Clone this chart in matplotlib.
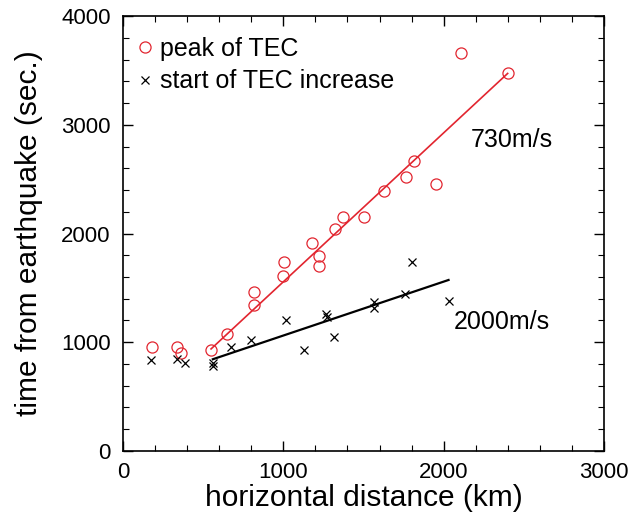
import numpy as np
import matplotlib
matplotlib.use("Agg")
import matplotlib.pyplot as plt
from matplotlib.ticker import MultipleLocator

plt.rcParams['font.family'] = ['Liberation Sans', 'DejaVu Sans']

# peak of TEC (km, sec)
peak_dist = [177, 334, 361, 548, 646, 815, 815, 996, 1006, 1179, 1223, 1219,
             1323, 1371, 1503, 1625, 1813, 1767, 1950, 2109, 2400]
peak_time = [958, 958, 897, 927, 1077, 1344, 1464, 1611, 1735, 1910, 1796, 1703,
             2039, 2155, 2155, 2394, 2665, 2517, 2459, 3659, 3478]

# start of TEC increase (km, sec)
start_dist = [171, 338, 386, 559, 563, 673, 798, 1015, 1131, 1267, 1271, 1315,
              1567, 1567, 1761, 1803, 2031]
start_time = [835, 842, 805, 805, 780, 958, 1017, 1203, 927, 1256, 1228, 1050,
              1372, 1317, 1440, 1735, 1378]

# fitted lines (end points)
fit_peak_x = [548, 2400]
fit_peak_y = [937, 3474]
fit_start_x = [559, 2031]
fit_start_y = [842, 1572]

red = '#e2252f'

fig = plt.figure(figsize=(6.3, 5.15), dpi=100)
ax = fig.add_axes([0.1957, 0.1249, 0.7626, 0.8434])

ax.plot(fit_peak_x, fit_peak_y, color=red, lw=1.2)
ax.plot(fit_start_x, fit_start_y, color='black', lw=1.6)
ax.plot(peak_dist, peak_time, 'o', mfc='none', mec=red, ms=8, mew=0.9,
        label='peak of TEC')
ax.plot(start_dist, start_time, 'x', color='black', ms=6, mew=0.9,
        label='start of TEC increase')

ax.text(2167, 2861, '730m/s', fontsize=18, va='center', ha='left')
ax.text(2061, 1185, '2000m/s', fontsize=18, va='center', ha='left')

ax.set_xlim(0, 3000)
ax.set_ylim(0, 4000)
ax.xaxis.set_major_locator(MultipleLocator(1000))
ax.xaxis.set_minor_locator(MultipleLocator(200))
ax.yaxis.set_major_locator(MultipleLocator(1000))
ax.yaxis.set_minor_locator(MultipleLocator(200))
ax.tick_params(which='both', direction='in', top=True, right=True, labelsize=16)
ax.tick_params(which='major', length=7, width=1)
ax.tick_params(which='minor', length=4, width=0.8)
ax.tick_params(axis='x', which='both', pad=8)
ax.tick_params(axis='y', which='both', pad=9)
for s in ax.spines.values():
    s.set_linewidth(1.2)

ax.set_xlabel('horizontal distance (km)', fontsize=21.5, labelpad=1)
ax.set_ylabel('time from earthquake (sec.)', fontsize=21.5, labelpad=13)

ax.legend(loc='upper left', bbox_to_anchor=(-0.004, 0.99), frameon=False,
          fontsize=18, handletextpad=0.3, borderaxespad=0.24, borderpad=0.4,
          labelspacing=0.35, handlelength=0.6)

fig.savefig('out.png', dpi=100)
